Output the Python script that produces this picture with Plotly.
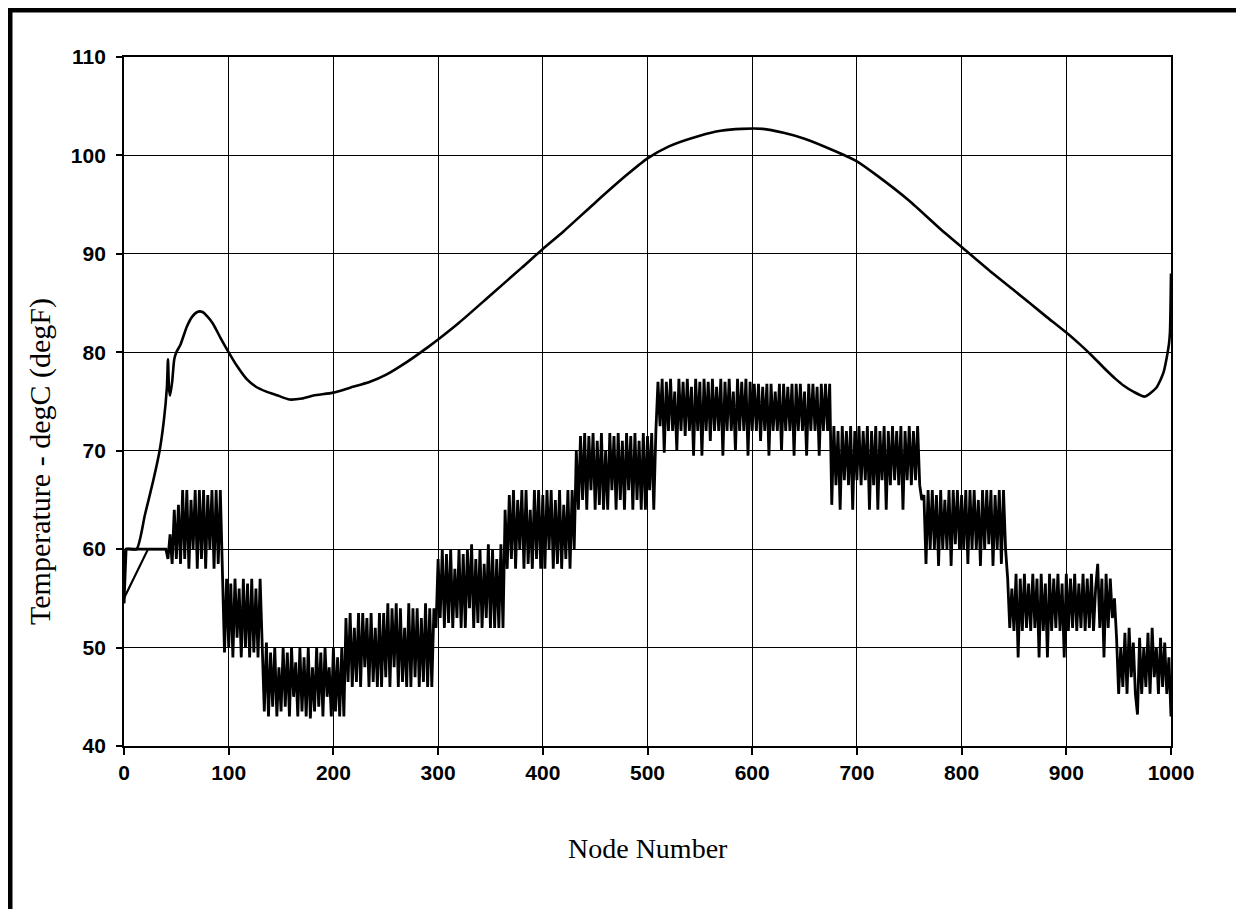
import plotly.graph_objects as go

# ---------------- data ----------------
# smooth temperature curve (node, value)
curve_nodes = [0, 2, 12, 20, 28, 34, 38, 41, 42, 43, 44, 46, 48, 50, 54, 60, 65, 70, 75, 80, 85, 92, 100,
               108, 117, 126, 136, 147, 158, 170, 181, 200, 216, 235, 250, 270, 290, 300, 320, 350, 380, 400,
               420, 450, 480, 500, 520, 550, 570, 590, 610, 630, 650, 680, 700, 720, 750, 780, 800, 830,
               850, 880, 900, 913, 925, 938, 947, 955, 964, 975, 986, 990, 993, 996, 998, 999, 1000]
curve_values = [54.5, 60, 60, 63.5, 67, 70, 73, 76.5, 79.3, 76.3, 75.6, 77, 79.3, 80, 80.8, 82.6, 83.6, 84.1, 84.1, 83.6, 82.9, 81.5, 80,
                78.6, 77.3, 76.5, 76.0, 75.6, 75.2, 75.3, 75.6, 75.9, 76.4, 77.0, 77.7, 79.0, 80.5, 81.3, 83.0, 85.8, 88.6, 90.5,
                92.3, 95.2, 98.0, 99.7, 100.9, 102.0, 102.5, 102.7, 102.7, 102.3, 101.7, 100.4, 99.4, 97.9, 95.4, 92.5, 90.7, 88.0,
                86.3, 83.7, 82.0, 80.8, 79.6, 78.2, 77.3, 76.6, 76.0, 75.5, 76.4, 77.2, 78.0, 79.5, 80.8, 82.0, 88.0]

# short ramp at the start
ramp_nodes = [0, 23, 40]
ramp_values = [55, 60, 60]

# oscillating series: segments sampled every 2 nodes (start node, values)
seg0_start = 40
seg0 = [60, 59, 61.5, 58.5, 64, 59, 64.5, 58.5, 66, 59, 66, 58, 65, 60, 66, 58, 66, 59, 66, 58,
        65.5, 60, 66, 58, 66, 58.5, 66, 58]
seg1_start = 96
seg1 = [49.5, 57, 50, 56.5, 49, 57, 51, 56, 49, 57, 50, 56.5, 49, 57, 49.5, 56, 49, 57, 50]
seg2_start = 134
seg2 = [43.5, 50.5, 43, 49.5, 44, 50, 43, 48, 43.5, 50, 44, 49.5, 43, 50, 45, 48.5, 43, 50, 43.5, 49,
        43, 50, 42.8, 48, 43.5, 50, 44, 49.5, 43, 50, 45, 48, 43, 50, 43.5, 49, 43, 50, 43]
seg3_start = 212
seg3 = [53, 46.5, 53.5, 46, 52, 46.5, 53.5, 46, 53.5, 48, 53, 46, 53.5, 46.5, 52, 46, 53.5, 46, 53.5, 47,
        54.5, 46, 54, 48, 54.5, 46, 54, 46.5, 52, 46, 54.5, 46, 54, 47, 54, 46, 53, 46.5, 54.5, 46,
        54, 46, 54]
seg4_start = 298
seg4 = [52, 59, 53, 60, 52, 59.5, 52.5, 60, 52, 58, 53, 60, 52, 59.5, 52, 60, 54, 60.5, 52, 59,
        52.5, 60, 52, 58.5, 53, 60.5, 52, 60, 52, 59, 52, 60.5, 52]
seg5_start = 364
seg5 = [64, 58, 65.5, 59, 66, 58, 65, 60, 66, 58, 66, 58.5, 64, 58, 66, 59, 66, 58, 65.5, 58,
        66, 60, 66, 58, 65, 58.5, 66, 58, 64.5, 59, 66, 58, 66, 60]
seg6_start = 432
seg6 = [70, 64, 71.5, 65, 71.8, 64, 71.5, 66, 71.8, 64, 71, 64.5, 71.8, 64, 70, 64, 71.8, 66, 71.5, 64,
        71.8, 65, 71, 64, 71.8, 66, 71.5, 64, 71.8, 65, 71, 64, 71.8, 64, 71.5, 66, 71.8, 64]
seg7_start = 508
seg7 = [72, 77, 72.5, 77.3, 69.8, 77, 72, 77.3, 72, 76, 70, 77.3, 72, 77, 71.5, 77.3, 72, 76.5, 69.5, 77.3,
        72, 77, 69.5, 77.3, 72, 77, 71, 77.3, 72, 76.5, 72, 77.3, 69.5, 77, 72, 77.3, 72, 76, 70, 77.3,
        72, 77, 72, 77.3, 69.5, 77, 72, 76.8, 72, 76.8, 71, 76.5, 72, 76.8, 69.5, 76.8, 72, 76, 72, 76.8,
        70, 76.8, 72, 76.5, 72, 76.8, 69.5, 76.8, 72, 76.8, 72, 76, 69.5, 76.8, 72, 76.8, 72, 76.5, 69.5, 76.8,
        72, 76.8, 72, 76.8]
seg8_start = 676
seg8 = [64.5, 72.5, 66.5, 72, 64, 72.5, 67, 72, 66.5, 72.5, 64, 72, 67, 72.5, 66.5, 72, 67, 72.5, 64, 72,
        66.5, 72.5, 64, 72, 67, 72.5, 64, 72, 66.5, 72.5, 67, 72, 66.5, 72.5, 64, 72, 67, 72.5, 66.5, 72,
        67, 72.5, 66.5, 65]
seg9_start = 764
seg9 = [65.5, 58.5, 66, 60, 66, 60, 65.5, 58.3, 66, 60, 65, 60, 66, 58.3, 66, 60.5, 66, 60, 65.5, 60,
        66, 58.5, 66, 60, 66, 60, 65, 58.3, 66, 60, 66, 60.5, 66, 58.3, 65.5, 60, 66, 58.5, 66, 60]
seg10_start = 844
seg10 = [57, 52, 56, 51.7, 57.5, 49, 57, 51.7, 57.5, 52, 56.5, 51.7, 57.5, 52, 57, 49, 57.5, 51.7, 56.5, 49,
         57.5, 51.7, 57, 52, 57.5, 51.7, 56.5, 49, 57.5, 51.7, 57, 52, 57.5, 51.7, 56.5, 52, 57.5, 51.7, 57, 52,
         57.5, 51.7, 56, 58.5, 52, 57, 49, 57.5, 52, 57, 53, 55]
seg11_start = 948
seg11 = [51, 45.3, 50, 46, 51.5, 45.3, 52, 47, 50.5, 45.3, 43.2, 51, 45.3, 50, 46, 51.5, 45.3, 52, 47, 50,
         45.3, 51, 46, 50.5, 45.3, 49, 43]

lead_nodes = [0, 2]
lead_values = [54.5, 60]

x_ticks = [0, 100, 200, 300, 400, 500, 600, 700, 800, 900, 1000]
y_ticks = [40, 50, 60, 70, 80, 90, 100, 110]

x_title = "Node Number"
y_title = "Temperature - degC (degF)"

# ------------- build oscillating series -------------
segments = [(seg0_start, seg0), (seg1_start, seg1), (seg2_start, seg2), (seg3_start, seg3),
            (seg4_start, seg4), (seg5_start, seg5), (seg6_start, seg6), (seg7_start, seg7),
            (seg8_start, seg8), (seg9_start, seg9), (seg10_start, seg10), (seg11_start, seg11)]
osc_x = list(lead_nodes)
osc_y = list(lead_values)
for start, vals in segments:
    for i, v in enumerate(vals):
        osc_x.append(start + 2 * i)
        osc_y.append(v)

fig = go.Figure()
fig.add_trace(go.Scatter(x=osc_x, y=osc_y, mode="lines",
                         line=dict(color="black", width=2.8), showlegend=False))
fig.add_trace(go.Scatter(x=ramp_nodes, y=ramp_values, mode="lines",
                         line=dict(color="black", width=2.2), showlegend=False))
fig.add_trace(go.Scatter(x=curve_nodes, y=curve_values, mode="lines", line_shape="spline",
                         line=dict(color="black", width=2.6, smoothing=0.6), showlegend=False))

# page has an 8px body margin; figure coordinates below are page pixels minus 8
W, H = 1236, 901
L, R, T, B = 116, 1163, 49, 738
pw, ph = R - L, B - T

def px_x(p):
    return (p - L) / pw

def px_y(p):
    return (B - p) / ph

tick_font = dict(family="Liberation Sans, Arial", size=21, color="black", weight="bold")

fig.update_layout(
    width=W, height=H,
    margin=dict(l=L, r=W - R, t=T, b=H - B, pad=0),
    paper_bgcolor="white", plot_bgcolor="white",
    xaxis=dict(range=[0, 1000], tickvals=x_ticks, showgrid=True, gridcolor="black", gridwidth=1.4,
               showline=True, linecolor="black", linewidth=1.8, mirror=True,
               ticks="outside", ticklen=7, tickwidth=1.6, tickcolor="black",
               tickfont=tick_font, ticklabelstandoff=0, zeroline=False),
    yaxis=dict(range=[40, 110], tickvals=y_ticks, showgrid=True, gridcolor="black", gridwidth=1.4,
               showline=True, linecolor="black", linewidth=1.8, mirror=True,
               ticks="outside", ticklen=6, tickwidth=1.6, tickcolor="black",
               tickfont=tick_font, ticklabelstandoff=6, zeroline=False),
    annotations=[
        dict(text=x_title, xref="paper", yref="paper", x=px_x(640), y=px_y(840),
             showarrow=False, xanchor="center", yanchor="middle",
             font=dict(family="Liberation Serif, Times New Roman", size=28, color="black")),
        dict(text=y_title, xref="paper", yref="paper", x=px_x(32), y=px_y(454),
             showarrow=False, xanchor="center", yanchor="middle", textangle=-90,
             font=dict(family="Liberation Serif, Times New Roman", size=30, color="black")),
    ],
    shapes=[
        dict(type="rect", xref="paper", yref="paper",
             x0=px_x(2), x1=px_x(1270), y0=px_y(940), y1=px_y(2),
             line=dict(color="black", width=5), fillcolor="rgba(0,0,0,0)", layer="above"),
    ],
)

fig.write_html("out.html")
